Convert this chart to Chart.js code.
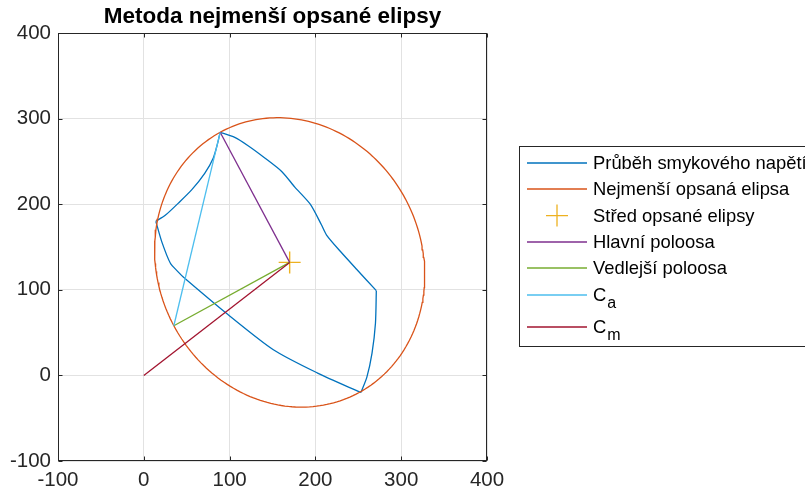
<!DOCTYPE html>
<html>
<head>
<meta charset="utf-8">
<script src="https://cdn.jsdelivr.net/npm/chart.js@4.4.1/dist/chart.umd.min.js"></script>
<style>
  html, body { margin: 0; padding: 0; background: #fff; overflow: hidden; }
  #wrap { width: 805px; height: 495px; position: relative; }
</style>
</head>
<body>
<div id="wrap"><canvas id="c"></canvas></div>
<script>
// Shear stress path over one load cycle, split at its four corners
const arcTopRightX = [89, 106, 122, 141, 161, 176, 194, 207, 213, 229, 248, 271];
const arcTopRightY = [284, 278, 268, 254, 238, 220, 200, 176, 164, 145, 124, 99];
const arcRightX = [271, 270, 266, 260, 253];
const arcRightY = [99, 61, 26, -2, -20];
const arcBottomX = [253, 202, 151, 97, 46, 40, 31, 21, 14];
const arcBottomY = [-20, 3, 30, 72, 115, 121, 131, 156, 180];
const arcLeftX = [14, 25, 40, 56, 71, 81, 86, 89];
const arcLeftY = [180, 187, 201, 217, 236, 254, 271, 284];

// Smallest enclosing ellipse: centre and the ends of its two semi-axes
const centre = [170, 132];
const majorEnd = [89, 284];
const minorEnd = [35, 58];

// Ca chord and Cm vector
const caX = [89, 35];
const caY = [284, 58];
const cmX = [0, 170];
const cmY = [0, 132];

// Axis ticks (same on both axes)
const axisTicks = [-100, 0, 100, 200, 300, 400];

const seriesLabels = ['Průběh smykového napětí', 'Nejmenší opsaná elipsa', 'Střed opsané elipsy',
                      'Hlavní poloosa', 'Vedlejší poloosa', 'C_a', 'C_m'];
const seriesColors = ['#0072BD', '#D95319', '#EDB120', '#7E2F8E', '#77AC30', '#4DBEEE', '#A2142F'];

const FONT = '"Liberation Sans", Arial, Helvetica, sans-serif';
const INK = '#262626';
const LW = 1.3;

const toPts = (xs, ys) => xs.map((x, i) => ({ x: x, y: ys[i] }));

// Ellipse outline traced from its centre and semi-axis ends
function ellipsePoints(n) {
  const ux = majorEnd[0] - centre[0], uy = majorEnd[1] - centre[1];
  const vx = minorEnd[0] - centre[0], vy = minorEnd[1] - centre[1];
  const pts = [];
  for (let i = 0; i <= n; i++) {
    const t = 2 * Math.PI * i / n;
    pts.push({ x: centre[0] + Math.cos(t) * ux + Math.sin(t) * vx,
               y: centre[1] + Math.cos(t) * uy + Math.sin(t) * vy });
  }
  return pts;
}

function lineSet(i, data, extra) {
  return Object.assign({
    label: seriesLabels[i], data: data, showLine: true, tension: 0,
    borderColor: seriesColors[i], backgroundColor: seriesColors[i],
    borderWidth: LW, pointRadius: 0, pointHoverRadius: 0, fill: false, order: 10 - i
  }, extra || {});
}

const smooth = { tension: 0.25 };
const branch = { tension: 0.25, inLegend: false };

const datasets = [
  lineSet(0, toPts(arcTopRightX, arcTopRightY), smooth),
  lineSet(0, toPts(arcRightX, arcRightY), branch),
  lineSet(0, toPts(arcBottomX, arcBottomY), branch),
  lineSet(0, toPts(arcLeftX, arcLeftY), branch),
  lineSet(1, ellipsePoints(240)),
  {
    label: seriesLabels[2], data: [{ x: centre[0], y: centre[1] }], showLine: false,
    pointStyle: 'cross', pointRadius: 11, pointHoverRadius: 11,
    borderColor: seriesColors[2], backgroundColor: seriesColors[2], borderWidth: 1.4, order: 8
  },
  lineSet(3, toPts([centre[0], majorEnd[0]], [centre[1], majorEnd[1]])),
  lineSet(4, toPts([centre[0], minorEnd[0]], [centre[1], minorEnd[1]])),
  lineSet(5, toPts(caX, caY)),
  lineSet(6, toPts(cmX, cmY))
];

// Axes box with inward tick marks on all four sides
const axesBox = {
  id: 'axesBox',
  afterDatasetsDraw(chart) {
    const { ctx, chartArea: a, scales } = chart;
    const L = Math.round(a.left) + 0.5, R = Math.round(a.right) - 0.5;
    const T = Math.round(a.top) + 0.5, B = Math.round(a.bottom) - 0.5;
    ctx.save();
    ctx.strokeStyle = INK;
    ctx.lineWidth = 1;
    ctx.beginPath();
    axisTicks.forEach(v => {
      const px = Math.round(scales.x.getPixelForValue(v)) + 0.5;
      ctx.moveTo(px, B); ctx.lineTo(px, B - 4);
      ctx.moveTo(px, T); ctx.lineTo(px, T + 4);
      const py = Math.round(scales.y.getPixelForValue(v)) + 0.5;
      ctx.moveTo(L, py); ctx.lineTo(L + 4, py);
      ctx.moveTo(R, py); ctx.lineTo(R - 4, py);
    });
    ctx.stroke();
    ctx.strokeRect(L, T, R - L, B - T);
    ctx.restore();
  }
};

// Boxed legend to the right of the axes; "X_y" labels get a subscript
const boxLegend = {
  id: 'boxLegend',
  afterDraw(chart) {
    const ctx = chart.ctx;
    const bx = 519.5, by = 146.5, bw = 320, bh = 200;
    ctx.save();
    ctx.fillStyle = '#fff';
    ctx.fillRect(bx, by, bw, bh);
    ctx.strokeStyle = INK;
    ctx.lineWidth = 1;
    ctx.strokeRect(bx, by, bw, bh);

    let y = 163;
    chart.data.datasets.filter(ds => ds.inLegend !== false).forEach(ds => {
      const parts = ds.label.split('_');
      ctx.strokeStyle = ds.borderColor;
      if (ds.pointStyle === 'cross') {
        ctx.lineWidth = 1.3;
        ctx.beginPath();
        ctx.moveTo(546, y); ctx.lineTo(568, y);
        ctx.moveTo(557, y - 11); ctx.lineTo(557, y + 11);
        ctx.stroke();
      } else {
        ctx.lineWidth = LW;
        ctx.beginPath();
        ctx.moveTo(527, Math.round(y));
        ctx.lineTo(587, Math.round(y));
        ctx.stroke();
      }
      ctx.fillStyle = '#000';
      ctx.textBaseline = 'middle';
      ctx.textAlign = 'left';
      ctx.font = '18.4px ' + FONT;
      ctx.fillText(parts[0], 593, y + 1);
      let extra = 0;
      if (parts.length > 1) {
        const w = ctx.measureText(parts[0]).width;
        ctx.font = '16px ' + FONT;
        ctx.fillText(parts[1], 593 + w + 1, y + 9);
        extra = 6.2;
      }
      y += 26.3 + extra;
    });
    ctx.restore();
  }
};

const tickOpts = (pad) => ({
  color: INK, padding: pad, maxRotation: 0, autoSkip: false,
  font: { family: FONT, size: 20.5 }
});

new Chart(document.getElementById('c'), {
  type: 'scatter',
  data: { datasets: datasets },
  options: {
    responsive: true,
    maintainAspectRatio: false,
    animation: false,
    events: [],
    layout: { padding: { left: 0, right: 318, top: 0, bottom: 0 } },
    plugins: {
      legend: { display: false },
      tooltip: { enabled: false },
      title: {
        display: true, fullSize: false,
        text: 'Metoda nejmenší opsané elipsy',
        color: '#000',
        font: { family: FONT, size: 22.5, weight: 'bold', lineHeight: 1.2 },
        padding: { top: 3, bottom: 3 }
      }
    },
    scales: {
      x: {
        type: 'linear', min: -100, max: 400,
        afterBuildTicks: s => { s.ticks = axisTicks.map(v => ({ value: v })); },
        ticks: tickOpts(7),
        grid: { color: '#e2e2e2', lineWidth: 1, drawTicks: false },
        border: { display: false },
        afterFit: s => { s.height = 34; }
      },
      y: {
        type: 'linear', min: -100, max: 400,
        afterBuildTicks: s => { s.ticks = axisTicks.map(v => ({ value: v })); },
        ticks: tickOpts(7),
        grid: { color: '#e2e2e2', lineWidth: 1, drawTicks: false },
        border: { display: false },
        afterFit: s => { s.width = 58; }
      }
    }
  },
  plugins: [axesBox, boxLegend]
});
</script>
</body>
</html>
